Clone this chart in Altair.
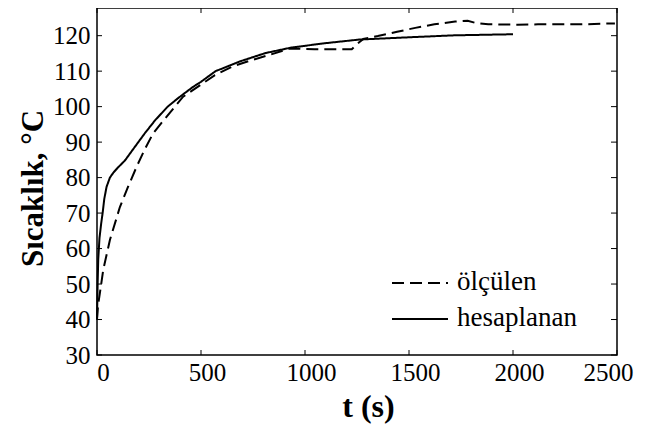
import altair as alt
import pandas as pd

# measured (ölçülen)
t_meas = [0, 5, 14, 30, 62, 110, 150, 190, 230, 270, 335, 414, 510, 567, 650, 727, 830, 927,
          1045, 1225, 1250, 1280, 1350, 1443, 1530, 1622, 1722, 1782, 1820, 1881, 2020, 2120,
          2330, 2448, 2490]
v_meas = [40, 44, 47.5, 54, 62.4, 71.7, 77.5, 83, 88, 92.5, 97.2, 102.8, 106.6, 108.9, 111.3,
          112.8, 114.6, 116.4, 116.2, 116.2, 117.6, 119.1, 119.9, 121.1, 122.2, 123.2, 124.0,
          124.2, 123.6, 123.2, 123.1, 123.2, 123.2, 123.4, 123.4]
# computed (hesaplanan)
t_calc = [0, 3, 6, 12, 20, 27, 35, 46, 62, 80, 100, 134, 180, 230, 280, 340, 390, 460, 500,
          570, 690, 810, 930, 1085, 1260, 1520, 1720, 2000]
v_calc = [40, 50, 57, 63, 67, 70, 74, 77.4, 80, 81.5, 82.8, 84.8, 88.5, 92.5, 96.2, 100,
          102.4, 105.5, 107, 110, 112.8, 115.1, 116.6, 117.8, 118.9, 119.6, 120.1, 120.4]

series = ["ölçülen", "hesaplanan"]
x_ticks = [0, 500, 1000, 1500, 2000, 2500]
y_ticks = [30, 40, 50, 60, 70, 80, 90, 100, 110, 120]

df = pd.concat([
    pd.DataFrame({"t": t_meas, "T": v_meas, "s": series[0]}),
    pd.DataFrame({"t": t_calc, "T": v_calc, "s": series[1]}),
])

W, H = 520, 347
FONT = "Liberation Serif"

xs = alt.Scale(domain=[0, 2500], nice=False, zero=False)
ys = alt.Scale(domain=[30, 127.8], nice=False, zero=False)

x_axis = alt.Axis(
    values=x_ticks, format="d", title="t (s)", ticks=False, tickSize=0, domain=False, grid=False,
    labelFont=FONT, labelFontSize=25, labelColor="black", labelPadding=5,
    labelOffset={"condition": {"test": "datum.value == 2500", "value": -9}, "value": 6},
    labelOverlap=False, labelFlush=False,
    titleFont=FONT, titleFontSize=32, titleFontWeight="bold", titleColor="black",
    titleX=271, titleY=61, titleBaseline="alphabetic")
y_axis = alt.Axis(
    values=y_ticks, format="d", title="Sıcaklık, °C", ticks=False, tickSize=0, domain=False,
    grid=False, labelFont=FONT, labelFontSize=25, labelColor="black", labelPadding=7,
    labelOverlap=False, labelFlush=False,
    titleFont=FONT, titleFontSize=31, titleFontWeight="bold", titleColor="black",
    titleX=-48, titleY=180)

dash_scale = alt.Scale(domain=series, range=[[12, 6], [1, 0]])

lines = alt.Chart(df).mark_line(color="black", strokeWidth=2).encode(
    x=alt.X("t:Q", scale=xs, axis=x_axis),
    y=alt.Y("T:Q", scale=ys, axis=y_axis),
    strokeDash=alt.StrokeDash("s:N", scale=dash_scale, legend=None),
)

xt = pd.DataFrame({"x": x_ticks})
yt = pd.DataFrame({"y": y_ticks})

tb = alt.Chart(xt).mark_rule(color="black", strokeWidth=1).encode(
    x=alt.X("x:Q", scale=xs, axis=x_axis), y=alt.value(H), y2=alt.value(H - 5))
tt = alt.Chart(xt).mark_rule(color="black", strokeWidth=1).encode(
    x=alt.X("x:Q", scale=xs, axis=x_axis), y=alt.value(0), y2=alt.value(5))
tl = alt.Chart(yt).mark_rule(color="black", strokeWidth=1).encode(
    y=alt.Y("y:Q", scale=ys, axis=y_axis), x=alt.value(0), x2=alt.value(5))
tr = alt.Chart(yt).mark_rule(color="black", strokeWidth=1).encode(
    y=alt.Y("y:Q", scale=ys, axis=y_axis), x=alt.value(W), x2=alt.value(W - 6))

# legend (drawn manually)
leg_y = [275, 311]
legend_layers = []
for name, ly in zip(series, leg_y):
    ld = pd.DataFrame({"s": [name]})
    legend_layers.append(
        alt.Chart(ld).mark_rule(color="black", strokeWidth=2).encode(
            x=alt.value(295), x2=alt.value(351), y=alt.value(ly),
            strokeDash=alt.StrokeDash("s:N", scale=dash_scale, legend=None)))
    legend_layers.append(
        alt.Chart(ld).mark_text(font=FONT, fontSize=27, color="black", align="left",
                                baseline="middle").encode(
            x=alt.value(360), y=alt.value(ly - 1), text="s:N"))

chart = alt.layer(lines, tb, tt, tl, tr, *legend_layers).properties(
    width=W, height=H,
    background="white",
    autosize=alt.AutoSizeParams(type="none"),
    padding={"left": 89, "top": 0, "right": 18, "bottom": 73},
).configure_view(stroke="black", strokeWidth=1.5)

chart.save("out.html", embed_options={"renderer": "svg", "actions": False})
